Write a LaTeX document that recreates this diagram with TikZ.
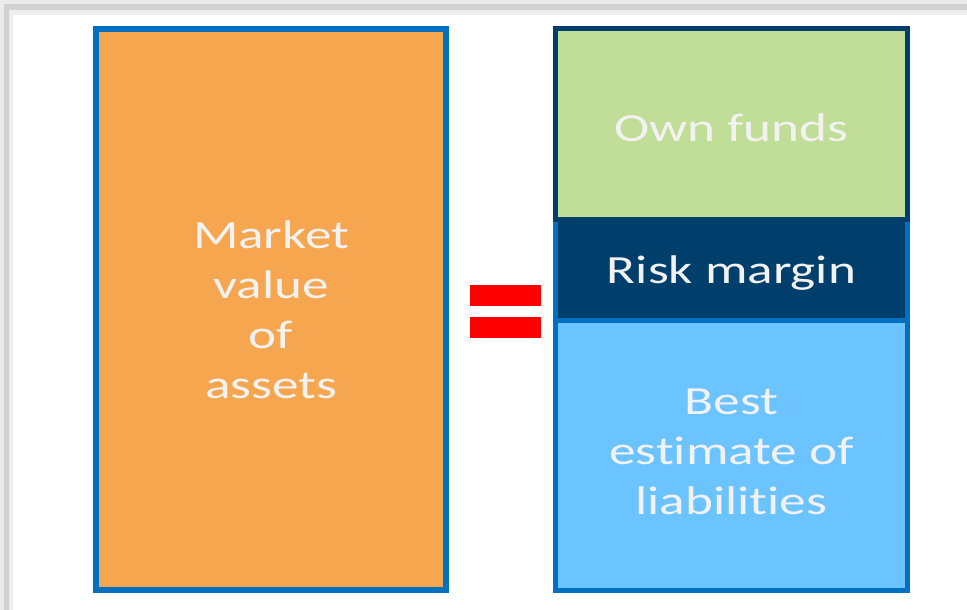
\documentclass[tikz,border=0pt]{standalone}
\usepackage{fontspec}
\setmainfont[Ligatures=NoCommon]{Carlito}
\usepackage{tikz}
\usetikzlibrary{positioning}
\definecolor{Assets}{HTML}{F6A64F}
\definecolor{OwnFunds}{HTML}{C1DE98}
\definecolor{Navy}{HTML}{003F6B}
\definecolor{Liab}{HTML}{6BC3FF}
\definecolor{Rim}{HTML}{0070C0}
\definecolor{Shade}{HTML}{D2D2D2}
\definecolor{Ink}{HTML}{F2F2F2}

\begin{document}
\begin{tikzpicture}[x=0.75pt,y=-0.75pt,
  block/.style={draw=Rim,line width=3.75pt,inner sep=0pt,outer sep=0pt,minimum width=264pt},
  lbl/.style={text=Ink,font=\fontsize{30}{37.5}\selectfont,align=center,xscale=1.33,transform shape},
  bar/.style={fill=red,inner sep=0pt,minimum width=53.25pt,minimum height=15.75pt}]
\useasboundingbox (0,0) rectangle (967,610);

% shadowed frame
\fill [Shade!45] (0,0) rectangle (967,610);
\fill [Shade] (4,4) rectangle (967,610);
\fill [Shade!40] (9,10) rectangle (967,610);
\fill [white] (13,15) rectangle (967,610);

% left column
\node [block,line width=4.5pt,fill=Assets,minimum width=262.5pt,minimum height=420.75pt] (assets) at (271,309.5) {};
\node [lbl] (assetstxt) at (assets.center) {Market\\value\\of\\assets};

% right column
\node [block,draw=Navy,fill=OwnFunds,minimum height=143.25pt] (own) at (731.5,124) {};
\node [block,fill=Navy,minimum height=75.75pt,below=0pt of own] (risk) {};
\node [block,fill=Liab,minimum height=202.5pt,below=0pt of risk] (best) {};
\draw [Navy,line width=3.75pt] (own.north west) rectangle (own.south east);

\node [lbl] (owntxt) at ([yshift=-2.5pt]own.center) {Own funds};
\node [lbl] (risktxt) at ([yshift=-2.5pt]risk.center) {Risk margin};
\node [lbl] (besttxt) at ([yshift=3pt]best.center) {Best\\estimate of\\liabilities};

% equals sign
\node [bar] (eqtop) at (505,295.5) {};
\node [bar] (eqbot) at (505,327.5) {};
\end{tikzpicture}
\end{document}
